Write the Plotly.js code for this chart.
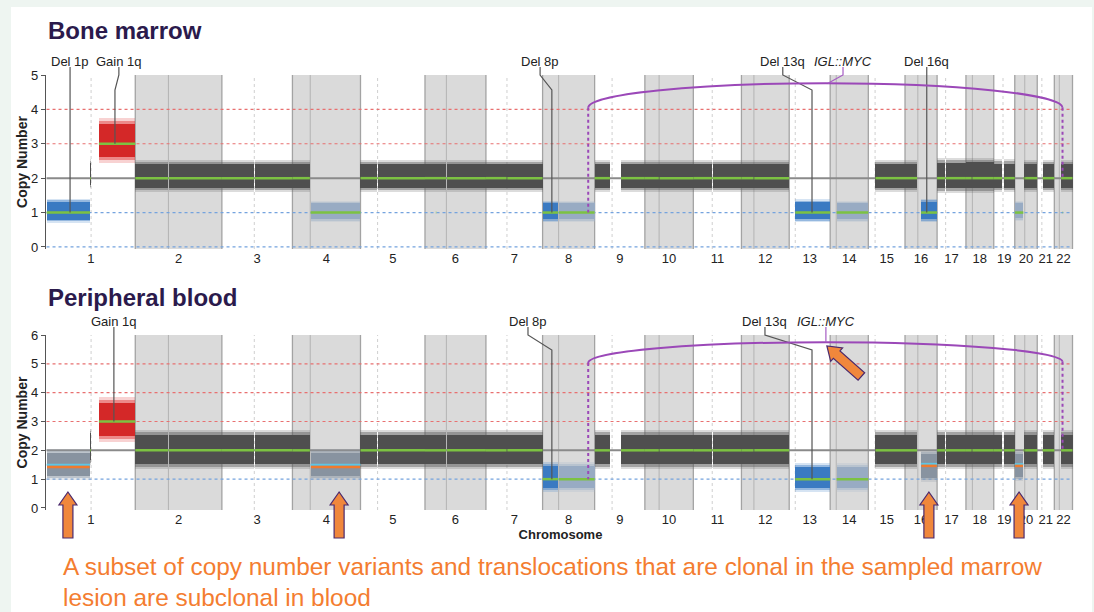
<!DOCTYPE html>
<html><head><meta charset="utf-8">
<script src="https://cdn.plot.ly/plotly-3.0.1.min.js"></script>
<style>html,body{margin:0;padding:0;background:#fff;}#chart{width:1094px;height:612px;}</style>
</head><body><div id="chart"></div>
<script>
// ---------------- DATA ----------------
const chromNames = ['1','2','3','4','5','6','7','8','9','10','11','12','13','14','15','16','17','18','19','20','21','22'];
const chromLen   = [249,243,198,191,181,171,159,146,141,136,135,134,115,107,103,90,81,78,59,63,48,51];
const centromere = [125,93,91,50,48,60,59,45,49,40,53,35,17,17,19,36,24,18,26,28,13,14];
const shadedChroms = ['2','4','6','8','10','12','14','16','18','20','22'];

// Bone marrow segments: chromosome, start/end (Mb), mean copy number, cloud low/high, class
const bmChrom = ['1','1','1','2','2','3','3','4','4','5','5','6','6','6','7','7','8','8','9','9','10','10','11','11','12','12','13','14','15','16','16','17','17','18','18','19','19','20','20','20','21','22','22'];
const bmStart = [0.5,122,147,0,94,0,92,0,51,0,49,0,61,30.5,0,60,0,46,0,74,0,41,0,54,0,36,17,18,20,0,45,0,25,0,18,0,29,0,24.5,29,15,19,23.5];
const bmEnd   = [122,124,249,92,243,90,198,49,191,47,181,59,171,31.5,58,159,44,146,43,141,39,136,52,135,34,134,115,107,103,34,90,23,81,16,78,24,59,24,27.5,63,48,51,24.5];
const bmCN    = [1,2,3,2,2,2,2,2,1,2,2,2,2,1,2,2,1,1,2,2,2,2,2,2,2,2,1,1,2,2,1,2,2,2,2,2,2,1,2,2,2,2,1];
const bmLo    = [0.7,1.7,2.45,1.6,1.6,1.6,1.6,1.6,0.73,1.6,1.6,1.6,1.6,0.8,1.6,1.6,0.72,0.72,1.6,1.6,1.6,1.6,1.6,1.6,1.6,1.6,0.72,0.73,1.6,1.6,0.72,1.58,1.58,1.58,1.58,1.6,1.6,0.75,1.6,1.6,1.6,1.6,0.8];
const bmHi    = [1.4,2.55,3.75,2.52,2.52,2.52,2.52,2.52,1.35,2.52,2.52,2.52,2.52,1.3,2.52,2.52,1.35,1.35,2.52,2.52,2.52,2.52,2.52,2.52,2.52,2.52,1.38,1.35,2.52,2.52,1.4,2.58,2.58,2.6,2.6,2.55,2.55,1.35,2.52,2.52,2.52,2.52,1.25];
const bmKind  = ['d','n','g','n','n','n','n','n','l','n','n','n','n','d','n','n','d','l','n','n','n','n','n','n','n','n','d','l','n','n','d','n','n','n','n','n','n','l','n','n','n','n','d'];

// Peripheral blood segments
const pbChrom = ['1','1','1','2','2','3','3','4','4','5','5','6','6','7','7','8','8','9','9','10','10','11','11','12','12','13','14','15','16','16','17','17','18','18','19','19','20','20','20','21','22'];
const pbStart = [0.5,122,147,0,94,0,92,0,51,0,49,0,61,0,60,0,46,0,74,0,41,0,54,0,36,17,18,20,0,45,0,25,0,18,0,29,0,24.5,29,15,19];
const pbEnd   = [122,124,249,92,243,90,198,49,191,47,181,59,171,58,159,44,146,43,141,39,136,52,135,34,134,115,107,103,34,90,23,81,16,78,24,59,24,27.5,63,48,51];
const pbCN    = [1.42,2,3,2,2,2,2,2,1.42,2,2,2,2,2,2,1,1,2,2,2,2,2,2,2,2,1,1,2,2,1.46,2,2,2,2,2,2,1.46,2,2,2,2];
const pbFit   = [1.5,null,null,null,null,null,null,null,1.5,null,null,null,null,null,null,null,null,null,null,null,null,null,null,null,null,null,null,null,null,1.53,null,null,null,null,null,null,1.52,null,null,null,null];
const pbLo    = [0.97,1.5,2.3,1.35,1.35,1.35,1.35,1.35,0.97,1.35,1.35,1.35,1.35,1.35,1.35,0.55,0.55,1.35,1.35,1.35,1.35,1.35,1.35,1.35,1.35,0.55,0.55,1.35,1.35,0.9,1.35,1.35,1.35,1.35,1.35,1.35,0.95,1.35,1.35,1.35,1.35];
const pbHi    = [2.05,2.75,3.85,2.72,2.72,2.72,2.72,2.72,2.05,2.72,2.72,2.72,2.72,2.72,2.72,1.6,1.6,2.72,2.72,2.72,2.72,2.72,2.72,2.72,2.72,1.55,1.55,2.72,2.72,2.0,2.72,2.72,2.72,2.72,2.72,2.72,2.0,2.72,2.72,2.72,2.72];
const pbKind  = ['m','n','g','n','n','n','n','n','m','n','n','n','n','n','n','d','l','n','n','n','n','n','n','n','n','d','l','n','n','m','n','n','n','n','n','n','m','n','n','n','n'];

// Reference copy-number lines
const bmRedLines = [3,4];   const bmBlueLines = [0,1];
const pbRedLines = [3,4,5]; const pbBlueLines = [1];

// Labelled events
const evPanel   = ['bm','bm','bm','bm','bm','pb','pb','pb'];
const evLabel   = ['Del 1p','Gain 1q','Del 8p','Del 13q','Del 16q','Gain 1q','Del 8p','Del 13q'];
const evChrom   = ['1','1','8','13','16','1','8','13'];
const evPos     = [66,192,26,64,61,189,26,64];
const evTextPos = [66,203,-7,-18,61,189,-41,-68];
const evCN      = [1,3,1,1,1,3,1,1];

// Translocation IGL::MYC (chr8 MYC ~128 Mb  <->  chr22 IGL ~23 Mb)
const tlLabel = '<i>IGL::MYC</i>';
const tlChromA = '8',  tlPosA = 128, tlTargetA = 1;
const tlChromB = '22', tlPosB = 23,  tlTargetB = 2;
const tlEndY   = {bm:[4.05,4.05], pb:[5.03,5.07]};
const tlPeakY  = {bm:4.76, pb:5.75};
const tlTextPos = {bm:36, pb:-12};   // on chr14 coordinate
const tlLinePos = {bm:-6, pb:-12};

// Orange arrows (chromosome, Mb)
const arrowChrom = ['1','4','16','20'];
const arrowPos   = [60,131,67,12];

const captionLines = ['A subset of copy number variants and translocations that are clonal in the sampled marrow','lesion are subclonal in blood'];

// ---------------- GEOMETRY ----------------
const W=1094,H=612,ML=46,MR=19,MT=70,MB=100;
const PW=W-ML-MR, PH=H-MT-MB;
const XR=[-1.5,2886];
const panels = {bm:{range:[-0.06,5],pxTop:75,pxBot:249,xa:'x',ya:'y'},
                pb:{range:[-0.07,6],pxTop:335,pxBot:510,xa:'x2',ya:'y2'}};
const chromStart=[]; {let c=0; chromLen.forEach(l=>{chromStart.push(c); c+=l;});}
const total = chromStart[21]+chromLen[21];
const ci = c=>chromNames.indexOf(c);
const abs=(c,mb)=>chromStart[ci(c)]+mb;
const xpx = a=>ML+(a-XR[0])/(XR[1]-XR[0])*PW;
const ypx = (p,y)=>{const P=panels[p];return P.pxBot-(y-P.range[0])/(P.range[1]-P.range[0])*(P.pxBot-P.pxTop);};
const PX = px=>(px-ML)/PW, PY = py=>(H-MB-py)/PH;
const pathOf = pts=>pts.map((p,i)=>(i?'L':'M')+PX(p[0]).toFixed(5)+','+PY(p[1]).toFixed(5)).join(' ');
const FONT='Liberation Sans, Arial, sans-serif';

const coreColor = {n:'#4f4f4f',g:'#d42828',d:'#3a7ac2',l:'#98abc3',m:'#8893a0'};
const rgbOf = {n:'95,95,95',g:'222,50,50',d:'70,130,200',l:'160,178,200',m:'140,152,166'};
const cloudLayers = [{shrink:0,alpha:0.22},{shrink:0.06,alpha:0.45},{shrink:0.13,alpha:1}];

const traces=[];
function addPanel(S, key){
  const P=panels[key];
  cloudLayers.forEach(L=>{
    ['n','g','d','l','m'].forEach(k=>{
      const x=[],w=[],b=[],h=[];
      S.chrom.forEach((c,i)=>{
        if(S.kind[i]!==k) return;
        const s=abs(c,S.start[i]), e=abs(c,S.end[i]);
        let lo=S.lo[i], hi=S.hi[i];
        const d=(hi-lo)*L.shrink; lo+=d; hi-=d;
        x.push((s+e)/2); w.push(e-s); b.push(lo); h.push(hi-lo);
      });
      if(!x.length) return;
      traces.push({type:'bar',x:x,y:h,base:b,width:w,xaxis:P.xa,yaxis:P.ya,
        marker:{color:L.alpha===1?coreColor[k]:'rgba('+rgbOf[k]+','+L.alpha+')',line:{width:0}},
        showlegend:false,hoverinfo:'skip'});
    });
  });
  const gx=[],gy=[],ox=[],oy=[],cx=[],cy=[];
  S.chrom.forEach((c,i)=>{
    const s=abs(c,S.start[i]), e=abs(c,S.end[i]);
    if(S.kind[i]==='m'){
      ox.push(s+1,e-1,null); oy.push(S.cn[i],S.cn[i],null);
      cx.push(s,e,null); cy.push(S.fit[i],S.fit[i],null);
    } else {
      gx.push(s,e,null); gy.push(S.cn[i],S.cn[i],null);
    }
  });
  traces.push({type:'scatter',mode:'lines',x:gx,y:gy,xaxis:P.xa,yaxis:P.ya,line:{color:'#7cc242',width:2.5},showlegend:false,hoverinfo:'skip'});
  if(cx.length){
    traces.push({type:'scatter',mode:'lines',x:cx,y:cy,xaxis:P.xa,yaxis:P.ya,line:{color:'#5cc6e6',width:2},showlegend:false,hoverinfo:'skip'});
    traces.push({type:'scatter',mode:'lines',x:ox,y:oy,xaxis:P.xa,yaxis:P.ya,line:{color:'#f07a2e',width:2.5},showlegend:false,hoverinfo:'skip'});
  }
}
addPanel({chrom:bmChrom,start:bmStart,end:bmEnd,cn:bmCN,lo:bmLo,hi:bmHi,kind:bmKind},'bm');
addPanel({chrom:pbChrom,start:pbStart,end:pbEnd,cn:pbCN,fit:pbFit,lo:pbLo,hi:pbHi,kind:pbKind},'pb');

// ---------------- SHAPES ----------------
const shapes=[];
shapes.push({type:'rect',xref:'paper',yref:'paper',x0:PX(11),x1:PX(1092),y0:PY(620),y1:PY(7),fillcolor:'#ffffff',line:{width:0},layer:'below'});
Object.keys(panels).forEach(key=>{
  const P=panels[key];
  shadedChroms.forEach(c=>{
    const s=abs(c,0), e=abs(c,chromLen[ci(c)]);
    shapes.push({type:'rect',xref:P.xa,yref:P.ya+' domain',x0:s,x1:e,y0:0,y1:1,fillcolor:'#dadada',line:{width:0},layer:'below'});
    [s,e].forEach(v=>shapes.push({type:'line',xref:P.xa,yref:P.ya+' domain',x0:v,x1:v,y0:0,y1:1,line:{color:'#a3a3a3',width:1.3},layer:'below'}));
  });
  chromNames.forEach((c,i)=>{
    const v=chromStart[i]+centromere[i];
    const sh=shadedChroms.includes(c);
    shapes.push({type:'line',xref:P.xa,yref:P.ya+' domain',x0:v,x1:v,y0:0,y1:1,
      line:{color:sh?'#b3b3b3':'#cfcfcf',width:1,dash:sh?'solid':'dot'},layer:'below'});
  });
  const red = key==='bm'?bmRedLines:pbRedLines, blue = key==='bm'?bmBlueLines:pbBlueLines;
  red.forEach(v=>shapes.push({type:'line',xref:P.xa,yref:P.ya,x0:0,x1:total,y0:v,y1:v,line:{color:'#e87070',width:1.2,dash:'dot'},layer:'below'}));
  blue.forEach(v=>shapes.push({type:'line',xref:P.xa,yref:P.ya,x0:0,x1:total,y0:v,y1:v,line:{color:'#74a3de',width:1.2,dash:'dot'},layer:'below'}));
  shapes.push({type:'line',xref:P.xa,yref:P.ya,x0:0,x1:total,y0:2,y1:2,line:{color:'#8a8a8a',width:2},layer:'below'});
});

const annotations=[];
// Event leaders and labels
evLabel.forEach((lab,i)=>{
  const p=evPanel[i], P=panels[p];
  const lx=xpx(abs(evChrom[i],evPos[i])), tx=xpx(abs(evChrom[i],evTextPos[i]));
  const t0=P.pxTop-8;
  const pts=[[tx,t0],[tx,P.pxTop],[lx,P.pxTop+15],[lx,ypx(p,evCN[i])]];
  shapes.push({type:'path',xref:'paper',yref:'paper',path:pathOf(pts),line:{color:'#555555',width:1.2},layer:'above'});
  annotations.push({xref:'paper',yref:'paper',x:PX(tx),y:PY(P.pxTop-13.5),text:lab,showarrow:false,xanchor:'center',yanchor:'middle',font:{size:13,color:'#222',family:FONT}});
});
// Translocation arcs
const K=0.5523;
Object.keys(panels).forEach(key=>{
  const xL=xpx(abs(tlChromA,tlPosA)), xR=xpx(abs(tlChromB,tlPosB));
  const yL=ypx(key,tlEndY[key][0]), yR=ypx(key,tlEndY[key][1]), yP=ypx(key,tlPeakY[key]);
  const xC=(xL+xR)/2;
  const f=(a,b)=>PX(a).toFixed(5)+','+PY(b).toFixed(5);
  const path='M '+f(xL,yL)+' C '+f(xL,yL+K*(yP-yL))+' '+f(xC-K*(xC-xL),yP)+' '+f(xC,yP)+
             ' C '+f(xC+K*(xR-xC),yP)+' '+f(xR,yR+K*(yP-yR))+' '+f(xR,yR);
  shapes.push({type:'path',xref:'paper',yref:'paper',path:path,line:{color:'#9b48b8',width:2},layer:'above'});
  shapes.push({type:'path',xref:'paper',yref:'paper',path:pathOf([[xL,yL],[xL,ypx(key,tlTargetA)]]),line:{color:'#9b48b8',width:2,dash:'dot'},layer:'above'});
  shapes.push({type:'path',xref:'paper',yref:'paper',path:pathOf([[xR,yR],[xR,ypx(key,tlTargetB)]]),line:{color:'#9b48b8',width:2,dash:'dot'},layer:'above'});
  // label leader
  const P=panels[key];
  const tx=xpx(abs('14',tlTextPos[key])), lx=xpx(abs('14',tlLinePos[key]));
  const u=(lx-xC)/((lx<xC)?(xC-xL):(xR-xC));
  const yArc = yL+(yP-yL)*Math.sqrt(Math.max(0,1-u*u));
  const pts = tx===lx ? [[tx,P.pxTop-8],[lx,yArc]] : [[tx,P.pxTop-8],[tx,P.pxTop],[lx,yArc]];
  shapes.push({type:'path',xref:'paper',yref:'paper',path:pathOf(pts),line:{color:'#a65cc4',width:1.2},layer:'above'});
  annotations.push({xref:'paper',yref:'paper',x:PX(tx),y:PY(P.pxTop-13.5),text:tlLabel,showarrow:false,xanchor:'center',yanchor:'middle',font:{size:13,color:'#222',family:FONT}});
});
// Orange block arrows
function blockArrow(tip, dir){
  const L=46, HL=13, HW=9, SW=5;
  const n=Math.hypot(dir[0],dir[1]); const d=[dir[0]/n,dir[1]/n]; const q=[-d[1],d[0]];
  const pt=(a,b)=>[tip[0]+d[0]*a+q[0]*b, tip[1]+d[1]*a+q[1]*b];
  const pts=[pt(0,0),pt(HL,HW),pt(HL,SW),pt(L,SW),pt(L,-SW),pt(HL,-SW),pt(HL,-HW)];
  return pathOf(pts)+' Z';
}
arrowChrom.forEach((c,i)=>{
  const x=xpx(abs(c,arrowPos[i]));
  shapes.push({type:'path',xref:'paper',yref:'paper',path:blockArrow([x,492],[0,1]),fillcolor:'#f0873c',line:{color:'#4b2a6e',width:1.2},layer:'above'});
});
{
  const tipX=xpx(abs('14',tlLinePos.pb))+1;
  shapes.push({type:'path',xref:'paper',yref:'paper',path:blockArrow([tipX,346],[34,30]),fillcolor:'#f0873c',line:{color:'#4b2a6e',width:1.2},layer:'above'});
}
// Titles and caption
annotations.push({xref:'paper',yref:'paper',x:PX(46),y:PY(30),xanchor:'left',yanchor:'middle',showarrow:false,text:'<b>Bone marrow</b>',font:{size:24,color:'#2b1a4c',family:FONT}});
annotations.push({xref:'paper',yref:'paper',x:PX(46),y:PY(297),xanchor:'left',yanchor:'middle',showarrow:false,text:'<b>Peripheral blood</b>',font:{size:24,color:'#2b1a4c',family:FONT}});
captionLines.forEach((t,i)=>annotations.push({xref:'paper',yref:'paper',x:PX(61),y:PY(566+i*31),xanchor:'left',yanchor:'middle',showarrow:false,text:t,font:{size:24.4,color:'#f47d30',family:FONT}}));

// ---------------- AXES ----------------
const centers=chromNames.map((c,i)=>chromStart[i]+chromLen[i]/2);
const xBase={range:XR,tickvals:centers,ticktext:chromNames,ticks:'',showgrid:false,zeroline:false,showline:false,
  tickfont:{size:13,color:'#222',family:FONT},fixedrange:true};
const yBase=(P)=>({range:P.range,dtick:1,tick0:0,ticks:'outside',ticklen:4,tickcolor:'#555',tickwidth:1,
  showline:true,linecolor:'#555',linewidth:1.2,showgrid:false,zeroline:false,fixedrange:true,
  tickfont:{size:13,color:'#222',family:FONT},
  title:{text:'<b>Copy Number</b>',font:{size:14,color:'#222',family:FONT},standoff:0},
  domain:[PY(P.pxBot),PY(P.pxTop)]});
const layout={width:W,height:H,margin:{l:ML,r:MR,t:MT,b:MB},
  paper_bgcolor:'#eef5f1',plot_bgcolor:'rgba(0,0,0,0)',barmode:'overlay',bargap:0,showlegend:false,
  hovermode:false,font:{family:FONT},
  xaxis:Object.assign({},xBase,{anchor:'y'}),
  xaxis2:Object.assign({},xBase,{anchor:'y2',title:{text:'<b>Chromosome</b>',font:{size:13,color:'#222',family:FONT},standoff:0}}),
  yaxis:Object.assign(yBase(panels.bm),{anchor:'x'}),
  yaxis2:Object.assign(yBase(panels.pb),{anchor:'x2'}),
  shapes:shapes,annotations:annotations};
Plotly.newPlot('chart',traces,layout,{displayModeBar:false,staticPlot:true});
</script></body></html>
